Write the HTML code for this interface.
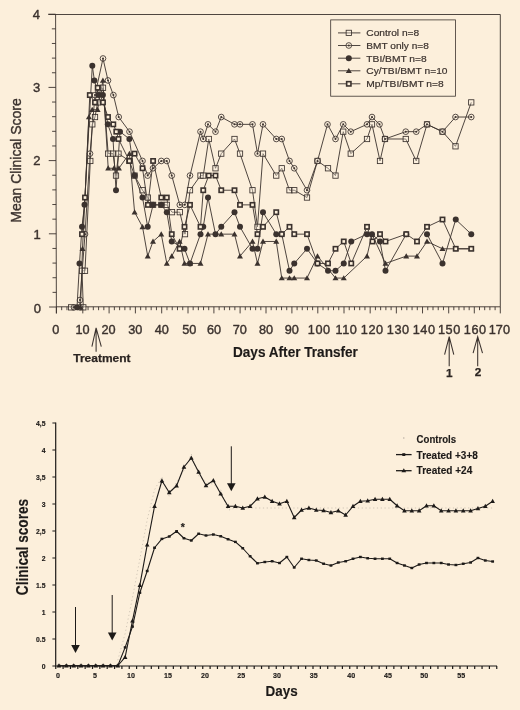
<!DOCTYPE html>
<html><head><meta charset="utf-8"><title>Figure</title>
<style>
html,body{margin:0;padding:0;background:#fcefdb;}
svg{display:block}
text{font-family:"Liberation Sans",Arial,Helvetica,sans-serif;fill:#3b322e;stroke:#3b322e;stroke-width:0.4px;stroke-linejoin:round}
.b{font-weight:bold;fill:#1d1a18;stroke:#1d1a18;stroke-width:0.15px}
.c{fill:#2c2522;stroke:#2c2522;stroke-width:0.25px}
</style></head><body>
<svg width="520" height="710" viewBox="0 0 520 710">
<rect width="520" height="710" fill="#fcefdb"/>

<g stroke="#3b322e" stroke-width="0.9" fill="none">
<path d="M48.4,14.5 H500.3 V306.8 H56.4 M55.6,14.5 L56.4,313.4"/>
<path d="M49.10,307.00H56.40M52.56,292.36H56.36M52.52,277.72H56.32M52.48,263.08H56.28M52.44,248.44H56.24M48.90,233.80H56.20M52.36,219.16H56.16M52.32,204.52H56.12M52.28,189.88H56.08M52.24,175.24H56.04M48.70,160.60H56.00M52.16,145.96H55.96M52.12,131.32H55.92M52.08,116.68H55.88M52.04,102.04H55.84M48.50,87.40H55.80M51.96,72.76H55.76M51.92,58.12H55.72M51.88,43.48H55.68M51.84,28.84H55.64M48.30,14.20H55.60"/>
<path d="M56.40,306.8V313.4M61.68,306.8V310.2M66.96,306.8V310.2M72.24,306.8V310.2M77.52,306.8V310.2M82.80,306.8V313.4M88.06,306.8V310.2M93.32,306.8V310.2M98.58,306.8V310.2M103.84,306.8V310.2M109.10,306.8V313.4M114.36,306.8V310.2M119.62,306.8V310.2M124.88,306.8V310.2M130.14,306.8V310.2M135.40,306.8V313.4M140.66,306.8V310.2M145.92,306.8V310.2M151.18,306.8V310.2M156.44,306.8V310.2M161.70,306.8V313.4M166.96,306.8V310.2M172.22,306.8V310.2M177.48,306.8V310.2M182.74,306.8V310.2M188.00,306.8V313.4M193.18,306.8V310.2M198.36,306.8V310.2M203.54,306.8V310.2M208.72,306.8V310.2M213.90,306.8V313.4M219.14,306.8V310.2M224.38,306.8V310.2M229.62,306.8V310.2M234.86,306.8V310.2M240.10,306.8V313.4M245.28,306.8V310.2M250.46,306.8V310.2M255.64,306.8V310.2M260.82,306.8V310.2M266.00,306.8V313.4M271.18,306.8V310.2M276.36,306.8V310.2M281.54,306.8V310.2M286.72,306.8V310.2M291.90,306.8V313.4M297.08,306.8V310.2M302.26,306.8V310.2M307.44,306.8V310.2M312.62,306.8V310.2M317.80,306.8V313.4M323.04,306.8V310.2M328.28,306.8V310.2M333.52,306.8V310.2M338.76,306.8V310.2M344.00,306.8V313.4M349.24,306.8V310.2M354.47,306.8V310.2M359.70,306.8V310.2M364.94,306.8V310.2M370.18,306.8V313.4M375.41,306.8V310.2M380.64,306.8V310.2M385.88,306.8V310.2M391.12,306.8V310.2M396.35,306.8V313.4M401.58,306.8V310.2M406.82,306.8V310.2M412.06,306.8V310.2M417.29,306.8V310.2M422.52,306.8V313.4M427.76,306.8V310.2M433.00,306.8V310.2M438.23,306.8V310.2M443.46,306.8V310.2M448.70,306.8V313.4M453.82,306.8V310.2M458.94,306.8V310.2M464.06,306.8V310.2M469.18,306.8V310.2M474.30,306.8V313.4M479.50,306.8V310.2M484.70,306.8V310.2M489.90,306.8V310.2M495.10,306.8V310.2M500.30,306.8V313.4"/>
</g>
<g stroke="#3b322e" stroke-width="0.9" fill="none" stroke-linejoin="round">
<polyline points="71.20,307.35 83.30,307.35 82.00,270.75 85.00,270.75 90.30,160.95 92.30,124.35 95.00,117.03 97.70,102.39 103.00,87.75 108.20,153.63 113.00,153.63 116.00,175.59 118.50,153.63 129.40,160.95 134.60,175.59 142.50,190.23 147.90,197.55 153.10,204.87 161.30,204.87 166.80,204.87 172.00,212.19 179.80,212.19 185.00,234.15 190.00,190.23 200.50,175.59 203.25,175.59 208.75,138.99 215.50,168.27 221.25,153.63 234.50,138.99 240.00,153.63 252.50,190.23 257.50,226.83 263.00,153.63 276.25,175.59 281.75,168.27 289.50,190.23 294.25,190.23 307.00,197.55 317.50,160.95 328.00,168.27 335.50,175.59 343.25,131.67 350.75,153.63 367.00,138.99 372.00,124.35 380.00,160.95 385.00,138.99 405.75,138.99 416.25,160.95 427.00,124.35 442.50,131.67 455.50,146.31 471.25,102.39"/>
<polyline points="74.00,307.35 79.80,307.35 80.00,300.03 85.00,234.15 90.00,153.63 95.00,95.07 103.00,58.47 108.00,80.43 113.40,95.07 118.70,117.03 129.50,131.67 142.50,160.95 147.70,175.59 153.00,168.27 161.25,160.95 166.80,160.95 171.75,175.59 179.80,204.87 184.80,204.87 190.00,175.59 200.50,131.67 203.25,138.99 208.00,124.35 215.50,131.67 221.25,117.03 234.50,124.35 240.00,124.35 252.50,124.35 257.50,153.63 263.00,124.35 276.25,138.99 281.75,138.99 289.50,160.95 294.25,168.27 307.00,190.23 317.50,160.95 327.50,124.35 335.50,138.99 343.25,124.35 350.75,131.67 367.00,124.35 372.00,117.03 379.50,124.35 385.00,138.99 405.75,131.67 416.25,131.67 427.00,124.35 442.50,131.67 455.50,117.03 471.25,117.03"/>
<polyline points="77.00,307.35 79.50,263.43 82.00,226.83 84.50,204.87 92.30,65.79 94.40,80.43 98.50,95.07 102.90,95.07 107.80,124.35 113.00,138.99 116.00,190.23 120.00,131.67 129.40,138.99 134.60,175.59 142.50,197.55 147.70,226.83 153.10,204.87 161.30,204.87 166.80,212.19 171.75,241.47 184.50,248.79 190.00,263.43 200.50,234.15 203.25,226.83 208.00,197.55 215.50,234.15 221.25,226.83 234.50,212.19 240.00,226.83 252.50,248.79 257.50,248.79 263.00,212.19 276.25,234.15 281.75,234.15 289.50,270.75 294.25,263.43 307.00,248.79 317.50,263.43 328.00,270.75 335.50,270.75 343.75,263.43 351.25,241.47 367.00,234.15 372.00,234.15 380.00,241.47 385.50,270.75 406.25,234.15"/>
<polyline points="427.00,234.15 442.50,263.43 455.75,219.51 471.25,234.15"/>
<polyline points="80.50,307.35 82.50,248.79 88.90,117.03 92.20,109.71 97.60,109.71 102.90,80.43 108.20,168.27 114.00,168.27 118.90,168.27 129.40,153.63 134.60,212.19 142.50,226.83 147.70,256.11 153.00,241.47 161.25,234.15 166.80,263.43 171.75,256.11 179.60,241.47 184.50,263.43 190.00,263.43 200.50,263.43 208.00,234.15 221.25,234.15 234.50,234.15 240.00,256.11 252.50,241.47 257.50,263.43 263.00,241.47 276.25,241.47 281.75,278.07 289.50,278.07 294.25,278.07 307.00,278.07 317.50,256.11 335.50,278.07 343.75,278.07 367.00,256.11 372.00,234.15 385.50,263.43 406.25,256.11 417.00,256.11 427.00,241.47 442.50,248.79 455.75,248.79 471.25,248.79"/>
<polyline points="82.00,234.15 85.00,197.55 89.80,95.07 95.00,102.39 97.70,87.75 103.00,102.39 108.00,117.03 113.30,124.35 116.30,131.67 118.50,138.99 129.40,160.95 134.60,153.63 142.50,168.27 147.90,204.87 153.10,160.95 161.30,197.55 166.80,197.55 171.75,234.15 179.60,248.79 184.50,226.83 190.00,204.87 200.50,226.83 203.25,190.23 208.75,175.59 215.50,175.59 221.25,190.23 234.50,190.23 240.00,204.87 252.50,204.87 257.50,234.15 263.00,226.83 276.25,212.19 281.75,234.15 289.50,226.83 294.25,234.15 307.00,234.15 317.50,263.43 328.00,263.43 335.50,248.79 343.75,241.47 351.25,263.43 367.00,226.83 372.50,241.47 380.00,234.15 385.50,241.47 406.25,234.15 417.00,241.47 427.00,226.83 442.50,219.51 455.75,248.79 471.25,248.79"/>
</g>
<rect x="68.55" y="304.70" width="5.3" height="5.3" fill="#fdf3e4" fill-opacity="0.35" stroke="#3b322e" stroke-width="0.85"/>
<rect x="80.65" y="304.70" width="5.3" height="5.3" fill="#fdf3e4" fill-opacity="0.35" stroke="#3b322e" stroke-width="0.85"/>
<rect x="79.35" y="268.10" width="5.3" height="5.3" fill="#fdf3e4" fill-opacity="0.35" stroke="#3b322e" stroke-width="0.85"/>
<rect x="82.35" y="268.10" width="5.3" height="5.3" fill="#fdf3e4" fill-opacity="0.35" stroke="#3b322e" stroke-width="0.85"/>
<rect x="87.65" y="158.30" width="5.3" height="5.3" fill="#fdf3e4" fill-opacity="0.35" stroke="#3b322e" stroke-width="0.85"/>
<rect x="89.65" y="121.70" width="5.3" height="5.3" fill="#fdf3e4" fill-opacity="0.35" stroke="#3b322e" stroke-width="0.85"/>
<rect x="92.35" y="114.38" width="5.3" height="5.3" fill="#fdf3e4" fill-opacity="0.35" stroke="#3b322e" stroke-width="0.85"/>
<rect x="95.05" y="99.74" width="5.3" height="5.3" fill="#fdf3e4" fill-opacity="0.35" stroke="#3b322e" stroke-width="0.85"/>
<rect x="100.35" y="85.10" width="5.3" height="5.3" fill="#fdf3e4" fill-opacity="0.35" stroke="#3b322e" stroke-width="0.85"/>
<rect x="105.55" y="150.98" width="5.3" height="5.3" fill="#fdf3e4" fill-opacity="0.35" stroke="#3b322e" stroke-width="0.85"/>
<rect x="110.35" y="150.98" width="5.3" height="5.3" fill="#fdf3e4" fill-opacity="0.35" stroke="#3b322e" stroke-width="0.85"/>
<rect x="113.35" y="172.94" width="5.3" height="5.3" fill="#fdf3e4" fill-opacity="0.35" stroke="#3b322e" stroke-width="0.85"/>
<rect x="115.85" y="150.98" width="5.3" height="5.3" fill="#fdf3e4" fill-opacity="0.35" stroke="#3b322e" stroke-width="0.85"/>
<rect x="126.75" y="158.30" width="5.3" height="5.3" fill="#fdf3e4" fill-opacity="0.35" stroke="#3b322e" stroke-width="0.85"/>
<rect x="131.95" y="172.94" width="5.3" height="5.3" fill="#fdf3e4" fill-opacity="0.35" stroke="#3b322e" stroke-width="0.85"/>
<rect x="139.85" y="187.58" width="5.3" height="5.3" fill="#fdf3e4" fill-opacity="0.35" stroke="#3b322e" stroke-width="0.85"/>
<rect x="145.25" y="194.90" width="5.3" height="5.3" fill="#fdf3e4" fill-opacity="0.35" stroke="#3b322e" stroke-width="0.85"/>
<rect x="150.45" y="202.22" width="5.3" height="5.3" fill="#fdf3e4" fill-opacity="0.35" stroke="#3b322e" stroke-width="0.85"/>
<rect x="158.65" y="202.22" width="5.3" height="5.3" fill="#fdf3e4" fill-opacity="0.35" stroke="#3b322e" stroke-width="0.85"/>
<rect x="164.15" y="202.22" width="5.3" height="5.3" fill="#fdf3e4" fill-opacity="0.35" stroke="#3b322e" stroke-width="0.85"/>
<rect x="169.35" y="209.54" width="5.3" height="5.3" fill="#fdf3e4" fill-opacity="0.35" stroke="#3b322e" stroke-width="0.85"/>
<rect x="177.15" y="209.54" width="5.3" height="5.3" fill="#fdf3e4" fill-opacity="0.35" stroke="#3b322e" stroke-width="0.85"/>
<rect x="182.35" y="231.50" width="5.3" height="5.3" fill="#fdf3e4" fill-opacity="0.35" stroke="#3b322e" stroke-width="0.85"/>
<rect x="187.35" y="187.58" width="5.3" height="5.3" fill="#fdf3e4" fill-opacity="0.35" stroke="#3b322e" stroke-width="0.85"/>
<rect x="197.85" y="172.94" width="5.3" height="5.3" fill="#fdf3e4" fill-opacity="0.35" stroke="#3b322e" stroke-width="0.85"/>
<rect x="200.60" y="172.94" width="5.3" height="5.3" fill="#fdf3e4" fill-opacity="0.35" stroke="#3b322e" stroke-width="0.85"/>
<rect x="206.10" y="136.34" width="5.3" height="5.3" fill="#fdf3e4" fill-opacity="0.35" stroke="#3b322e" stroke-width="0.85"/>
<rect x="212.85" y="165.62" width="5.3" height="5.3" fill="#fdf3e4" fill-opacity="0.35" stroke="#3b322e" stroke-width="0.85"/>
<rect x="218.60" y="150.98" width="5.3" height="5.3" fill="#fdf3e4" fill-opacity="0.35" stroke="#3b322e" stroke-width="0.85"/>
<rect x="231.85" y="136.34" width="5.3" height="5.3" fill="#fdf3e4" fill-opacity="0.35" stroke="#3b322e" stroke-width="0.85"/>
<rect x="237.35" y="150.98" width="5.3" height="5.3" fill="#fdf3e4" fill-opacity="0.35" stroke="#3b322e" stroke-width="0.85"/>
<rect x="249.85" y="187.58" width="5.3" height="5.3" fill="#fdf3e4" fill-opacity="0.35" stroke="#3b322e" stroke-width="0.85"/>
<rect x="254.85" y="224.18" width="5.3" height="5.3" fill="#fdf3e4" fill-opacity="0.35" stroke="#3b322e" stroke-width="0.85"/>
<rect x="260.35" y="150.98" width="5.3" height="5.3" fill="#fdf3e4" fill-opacity="0.35" stroke="#3b322e" stroke-width="0.85"/>
<rect x="273.60" y="172.94" width="5.3" height="5.3" fill="#fdf3e4" fill-opacity="0.35" stroke="#3b322e" stroke-width="0.85"/>
<rect x="279.10" y="165.62" width="5.3" height="5.3" fill="#fdf3e4" fill-opacity="0.35" stroke="#3b322e" stroke-width="0.85"/>
<rect x="286.85" y="187.58" width="5.3" height="5.3" fill="#fdf3e4" fill-opacity="0.35" stroke="#3b322e" stroke-width="0.85"/>
<rect x="291.60" y="187.58" width="5.3" height="5.3" fill="#fdf3e4" fill-opacity="0.35" stroke="#3b322e" stroke-width="0.85"/>
<rect x="304.35" y="194.90" width="5.3" height="5.3" fill="#fdf3e4" fill-opacity="0.35" stroke="#3b322e" stroke-width="0.85"/>
<rect x="314.85" y="158.30" width="5.3" height="5.3" fill="#fdf3e4" fill-opacity="0.35" stroke="#3b322e" stroke-width="0.85"/>
<rect x="325.35" y="165.62" width="5.3" height="5.3" fill="#fdf3e4" fill-opacity="0.35" stroke="#3b322e" stroke-width="0.85"/>
<rect x="332.85" y="172.94" width="5.3" height="5.3" fill="#fdf3e4" fill-opacity="0.35" stroke="#3b322e" stroke-width="0.85"/>
<rect x="340.60" y="129.02" width="5.3" height="5.3" fill="#fdf3e4" fill-opacity="0.35" stroke="#3b322e" stroke-width="0.85"/>
<rect x="348.10" y="150.98" width="5.3" height="5.3" fill="#fdf3e4" fill-opacity="0.35" stroke="#3b322e" stroke-width="0.85"/>
<rect x="364.35" y="136.34" width="5.3" height="5.3" fill="#fdf3e4" fill-opacity="0.35" stroke="#3b322e" stroke-width="0.85"/>
<rect x="369.35" y="121.70" width="5.3" height="5.3" fill="#fdf3e4" fill-opacity="0.35" stroke="#3b322e" stroke-width="0.85"/>
<rect x="377.35" y="158.30" width="5.3" height="5.3" fill="#fdf3e4" fill-opacity="0.35" stroke="#3b322e" stroke-width="0.85"/>
<rect x="382.35" y="136.34" width="5.3" height="5.3" fill="#fdf3e4" fill-opacity="0.35" stroke="#3b322e" stroke-width="0.85"/>
<rect x="403.10" y="136.34" width="5.3" height="5.3" fill="#fdf3e4" fill-opacity="0.35" stroke="#3b322e" stroke-width="0.85"/>
<rect x="413.60" y="158.30" width="5.3" height="5.3" fill="#fdf3e4" fill-opacity="0.35" stroke="#3b322e" stroke-width="0.85"/>
<rect x="424.35" y="121.70" width="5.3" height="5.3" fill="#fdf3e4" fill-opacity="0.35" stroke="#3b322e" stroke-width="0.85"/>
<rect x="439.85" y="129.02" width="5.3" height="5.3" fill="#fdf3e4" fill-opacity="0.35" stroke="#3b322e" stroke-width="0.85"/>
<rect x="452.85" y="143.66" width="5.3" height="5.3" fill="#fdf3e4" fill-opacity="0.35" stroke="#3b322e" stroke-width="0.85"/>
<rect x="468.60" y="99.74" width="5.3" height="5.3" fill="#fdf3e4" fill-opacity="0.35" stroke="#3b322e" stroke-width="0.85"/>
<circle cx="74.00" cy="307.35" r="2.85" fill="#fcefdb" fill-opacity="0.25" stroke="#3b322e" stroke-width="0.85"/><circle cx="74.00" cy="307.35" r="1.0" fill="#3b322e"/>
<circle cx="79.80" cy="307.35" r="2.85" fill="#fcefdb" fill-opacity="0.25" stroke="#3b322e" stroke-width="0.85"/><circle cx="79.80" cy="307.35" r="1.0" fill="#3b322e"/>
<circle cx="80.00" cy="300.03" r="2.85" fill="#fcefdb" fill-opacity="0.25" stroke="#3b322e" stroke-width="0.85"/><circle cx="80.00" cy="300.03" r="1.0" fill="#3b322e"/>
<circle cx="85.00" cy="234.15" r="2.85" fill="#fcefdb" fill-opacity="0.25" stroke="#3b322e" stroke-width="0.85"/><circle cx="85.00" cy="234.15" r="1.0" fill="#3b322e"/>
<circle cx="90.00" cy="153.63" r="2.85" fill="#fcefdb" fill-opacity="0.25" stroke="#3b322e" stroke-width="0.85"/><circle cx="90.00" cy="153.63" r="1.0" fill="#3b322e"/>
<circle cx="95.00" cy="95.07" r="2.85" fill="#fcefdb" fill-opacity="0.25" stroke="#3b322e" stroke-width="0.85"/><circle cx="95.00" cy="95.07" r="1.0" fill="#3b322e"/>
<circle cx="103.00" cy="58.47" r="2.85" fill="#fcefdb" fill-opacity="0.25" stroke="#3b322e" stroke-width="0.85"/><circle cx="103.00" cy="58.47" r="1.0" fill="#3b322e"/>
<circle cx="108.00" cy="80.43" r="2.85" fill="#fcefdb" fill-opacity="0.25" stroke="#3b322e" stroke-width="0.85"/><circle cx="108.00" cy="80.43" r="1.0" fill="#3b322e"/>
<circle cx="113.40" cy="95.07" r="2.85" fill="#fcefdb" fill-opacity="0.25" stroke="#3b322e" stroke-width="0.85"/><circle cx="113.40" cy="95.07" r="1.0" fill="#3b322e"/>
<circle cx="118.70" cy="117.03" r="2.85" fill="#fcefdb" fill-opacity="0.25" stroke="#3b322e" stroke-width="0.85"/><circle cx="118.70" cy="117.03" r="1.0" fill="#3b322e"/>
<circle cx="129.50" cy="131.67" r="2.85" fill="#fcefdb" fill-opacity="0.25" stroke="#3b322e" stroke-width="0.85"/><circle cx="129.50" cy="131.67" r="1.0" fill="#3b322e"/>
<circle cx="142.50" cy="160.95" r="2.85" fill="#fcefdb" fill-opacity="0.25" stroke="#3b322e" stroke-width="0.85"/><circle cx="142.50" cy="160.95" r="1.0" fill="#3b322e"/>
<circle cx="147.70" cy="175.59" r="2.85" fill="#fcefdb" fill-opacity="0.25" stroke="#3b322e" stroke-width="0.85"/><circle cx="147.70" cy="175.59" r="1.0" fill="#3b322e"/>
<circle cx="153.00" cy="168.27" r="2.85" fill="#fcefdb" fill-opacity="0.25" stroke="#3b322e" stroke-width="0.85"/><circle cx="153.00" cy="168.27" r="1.0" fill="#3b322e"/>
<circle cx="161.25" cy="160.95" r="2.85" fill="#fcefdb" fill-opacity="0.25" stroke="#3b322e" stroke-width="0.85"/><circle cx="161.25" cy="160.95" r="1.0" fill="#3b322e"/>
<circle cx="166.80" cy="160.95" r="2.85" fill="#fcefdb" fill-opacity="0.25" stroke="#3b322e" stroke-width="0.85"/><circle cx="166.80" cy="160.95" r="1.0" fill="#3b322e"/>
<circle cx="171.75" cy="175.59" r="2.85" fill="#fcefdb" fill-opacity="0.25" stroke="#3b322e" stroke-width="0.85"/><circle cx="171.75" cy="175.59" r="1.0" fill="#3b322e"/>
<circle cx="179.80" cy="204.87" r="2.85" fill="#fcefdb" fill-opacity="0.25" stroke="#3b322e" stroke-width="0.85"/><circle cx="179.80" cy="204.87" r="1.0" fill="#3b322e"/>
<circle cx="184.80" cy="204.87" r="2.85" fill="#fcefdb" fill-opacity="0.25" stroke="#3b322e" stroke-width="0.85"/><circle cx="184.80" cy="204.87" r="1.0" fill="#3b322e"/>
<circle cx="190.00" cy="175.59" r="2.85" fill="#fcefdb" fill-opacity="0.25" stroke="#3b322e" stroke-width="0.85"/><circle cx="190.00" cy="175.59" r="1.0" fill="#3b322e"/>
<circle cx="200.50" cy="131.67" r="2.85" fill="#fcefdb" fill-opacity="0.25" stroke="#3b322e" stroke-width="0.85"/><circle cx="200.50" cy="131.67" r="1.0" fill="#3b322e"/>
<circle cx="203.25" cy="138.99" r="2.85" fill="#fcefdb" fill-opacity="0.25" stroke="#3b322e" stroke-width="0.85"/><circle cx="203.25" cy="138.99" r="1.0" fill="#3b322e"/>
<circle cx="208.00" cy="124.35" r="2.85" fill="#fcefdb" fill-opacity="0.25" stroke="#3b322e" stroke-width="0.85"/><circle cx="208.00" cy="124.35" r="1.0" fill="#3b322e"/>
<circle cx="215.50" cy="131.67" r="2.85" fill="#fcefdb" fill-opacity="0.25" stroke="#3b322e" stroke-width="0.85"/><circle cx="215.50" cy="131.67" r="1.0" fill="#3b322e"/>
<circle cx="221.25" cy="117.03" r="2.85" fill="#fcefdb" fill-opacity="0.25" stroke="#3b322e" stroke-width="0.85"/><circle cx="221.25" cy="117.03" r="1.0" fill="#3b322e"/>
<circle cx="234.50" cy="124.35" r="2.85" fill="#fcefdb" fill-opacity="0.25" stroke="#3b322e" stroke-width="0.85"/><circle cx="234.50" cy="124.35" r="1.0" fill="#3b322e"/>
<circle cx="240.00" cy="124.35" r="2.85" fill="#fcefdb" fill-opacity="0.25" stroke="#3b322e" stroke-width="0.85"/><circle cx="240.00" cy="124.35" r="1.0" fill="#3b322e"/>
<circle cx="252.50" cy="124.35" r="2.85" fill="#fcefdb" fill-opacity="0.25" stroke="#3b322e" stroke-width="0.85"/><circle cx="252.50" cy="124.35" r="1.0" fill="#3b322e"/>
<circle cx="257.50" cy="153.63" r="2.85" fill="#fcefdb" fill-opacity="0.25" stroke="#3b322e" stroke-width="0.85"/><circle cx="257.50" cy="153.63" r="1.0" fill="#3b322e"/>
<circle cx="263.00" cy="124.35" r="2.85" fill="#fcefdb" fill-opacity="0.25" stroke="#3b322e" stroke-width="0.85"/><circle cx="263.00" cy="124.35" r="1.0" fill="#3b322e"/>
<circle cx="276.25" cy="138.99" r="2.85" fill="#fcefdb" fill-opacity="0.25" stroke="#3b322e" stroke-width="0.85"/><circle cx="276.25" cy="138.99" r="1.0" fill="#3b322e"/>
<circle cx="281.75" cy="138.99" r="2.85" fill="#fcefdb" fill-opacity="0.25" stroke="#3b322e" stroke-width="0.85"/><circle cx="281.75" cy="138.99" r="1.0" fill="#3b322e"/>
<circle cx="289.50" cy="160.95" r="2.85" fill="#fcefdb" fill-opacity="0.25" stroke="#3b322e" stroke-width="0.85"/><circle cx="289.50" cy="160.95" r="1.0" fill="#3b322e"/>
<circle cx="294.25" cy="168.27" r="2.85" fill="#fcefdb" fill-opacity="0.25" stroke="#3b322e" stroke-width="0.85"/><circle cx="294.25" cy="168.27" r="1.0" fill="#3b322e"/>
<circle cx="307.00" cy="190.23" r="2.85" fill="#fcefdb" fill-opacity="0.25" stroke="#3b322e" stroke-width="0.85"/><circle cx="307.00" cy="190.23" r="1.0" fill="#3b322e"/>
<circle cx="317.50" cy="160.95" r="2.85" fill="#fcefdb" fill-opacity="0.25" stroke="#3b322e" stroke-width="0.85"/><circle cx="317.50" cy="160.95" r="1.0" fill="#3b322e"/>
<circle cx="327.50" cy="124.35" r="2.85" fill="#fcefdb" fill-opacity="0.25" stroke="#3b322e" stroke-width="0.85"/><circle cx="327.50" cy="124.35" r="1.0" fill="#3b322e"/>
<circle cx="335.50" cy="138.99" r="2.85" fill="#fcefdb" fill-opacity="0.25" stroke="#3b322e" stroke-width="0.85"/><circle cx="335.50" cy="138.99" r="1.0" fill="#3b322e"/>
<circle cx="343.25" cy="124.35" r="2.85" fill="#fcefdb" fill-opacity="0.25" stroke="#3b322e" stroke-width="0.85"/><circle cx="343.25" cy="124.35" r="1.0" fill="#3b322e"/>
<circle cx="350.75" cy="131.67" r="2.85" fill="#fcefdb" fill-opacity="0.25" stroke="#3b322e" stroke-width="0.85"/><circle cx="350.75" cy="131.67" r="1.0" fill="#3b322e"/>
<circle cx="367.00" cy="124.35" r="2.85" fill="#fcefdb" fill-opacity="0.25" stroke="#3b322e" stroke-width="0.85"/><circle cx="367.00" cy="124.35" r="1.0" fill="#3b322e"/>
<circle cx="372.00" cy="117.03" r="2.85" fill="#fcefdb" fill-opacity="0.25" stroke="#3b322e" stroke-width="0.85"/><circle cx="372.00" cy="117.03" r="1.0" fill="#3b322e"/>
<circle cx="379.50" cy="124.35" r="2.85" fill="#fcefdb" fill-opacity="0.25" stroke="#3b322e" stroke-width="0.85"/><circle cx="379.50" cy="124.35" r="1.0" fill="#3b322e"/>
<circle cx="385.00" cy="138.99" r="2.85" fill="#fcefdb" fill-opacity="0.25" stroke="#3b322e" stroke-width="0.85"/><circle cx="385.00" cy="138.99" r="1.0" fill="#3b322e"/>
<circle cx="405.75" cy="131.67" r="2.85" fill="#fcefdb" fill-opacity="0.25" stroke="#3b322e" stroke-width="0.85"/><circle cx="405.75" cy="131.67" r="1.0" fill="#3b322e"/>
<circle cx="416.25" cy="131.67" r="2.85" fill="#fcefdb" fill-opacity="0.25" stroke="#3b322e" stroke-width="0.85"/><circle cx="416.25" cy="131.67" r="1.0" fill="#3b322e"/>
<circle cx="427.00" cy="124.35" r="2.85" fill="#fcefdb" fill-opacity="0.25" stroke="#3b322e" stroke-width="0.85"/><circle cx="427.00" cy="124.35" r="1.0" fill="#3b322e"/>
<circle cx="442.50" cy="131.67" r="2.85" fill="#fcefdb" fill-opacity="0.25" stroke="#3b322e" stroke-width="0.85"/><circle cx="442.50" cy="131.67" r="1.0" fill="#3b322e"/>
<circle cx="455.50" cy="117.03" r="2.85" fill="#fcefdb" fill-opacity="0.25" stroke="#3b322e" stroke-width="0.85"/><circle cx="455.50" cy="117.03" r="1.0" fill="#3b322e"/>
<circle cx="471.25" cy="117.03" r="2.85" fill="#fcefdb" fill-opacity="0.25" stroke="#3b322e" stroke-width="0.85"/><circle cx="471.25" cy="117.03" r="1.0" fill="#3b322e"/>
<path d="M80.50,304.45 L83.50,309.65 L77.50,309.65 Z" fill="#3b322e"/>
<path d="M82.50,245.89 L85.50,251.09 L79.50,251.09 Z" fill="#3b322e"/>
<path d="M88.90,114.13 L91.90,119.33 L85.90,119.33 Z" fill="#3b322e"/>
<path d="M92.20,106.81 L95.20,112.01 L89.20,112.01 Z" fill="#3b322e"/>
<path d="M97.60,106.81 L100.60,112.01 L94.60,112.01 Z" fill="#3b322e"/>
<path d="M102.90,77.53 L105.90,82.73 L99.90,82.73 Z" fill="#3b322e"/>
<path d="M108.20,165.37 L111.20,170.57 L105.20,170.57 Z" fill="#3b322e"/>
<path d="M114.00,165.37 L117.00,170.57 L111.00,170.57 Z" fill="#3b322e"/>
<path d="M118.90,165.37 L121.90,170.57 L115.90,170.57 Z" fill="#3b322e"/>
<path d="M129.40,150.73 L132.40,155.93 L126.40,155.93 Z" fill="#3b322e"/>
<path d="M134.60,209.29 L137.60,214.49 L131.60,214.49 Z" fill="#3b322e"/>
<path d="M142.50,223.93 L145.50,229.13 L139.50,229.13 Z" fill="#3b322e"/>
<path d="M147.70,253.21 L150.70,258.41 L144.70,258.41 Z" fill="#3b322e"/>
<path d="M153.00,238.57 L156.00,243.77 L150.00,243.77 Z" fill="#3b322e"/>
<path d="M161.25,231.25 L164.25,236.45 L158.25,236.45 Z" fill="#3b322e"/>
<path d="M166.80,260.53 L169.80,265.73 L163.80,265.73 Z" fill="#3b322e"/>
<path d="M171.75,253.21 L174.75,258.41 L168.75,258.41 Z" fill="#3b322e"/>
<path d="M179.60,238.57 L182.60,243.77 L176.60,243.77 Z" fill="#3b322e"/>
<path d="M184.50,260.53 L187.50,265.73 L181.50,265.73 Z" fill="#3b322e"/>
<path d="M190.00,260.53 L193.00,265.73 L187.00,265.73 Z" fill="#3b322e"/>
<path d="M200.50,260.53 L203.50,265.73 L197.50,265.73 Z" fill="#3b322e"/>
<path d="M208.00,231.25 L211.00,236.45 L205.00,236.45 Z" fill="#3b322e"/>
<path d="M221.25,231.25 L224.25,236.45 L218.25,236.45 Z" fill="#3b322e"/>
<path d="M234.50,231.25 L237.50,236.45 L231.50,236.45 Z" fill="#3b322e"/>
<path d="M240.00,253.21 L243.00,258.41 L237.00,258.41 Z" fill="#3b322e"/>
<path d="M252.50,238.57 L255.50,243.77 L249.50,243.77 Z" fill="#3b322e"/>
<path d="M257.50,260.53 L260.50,265.73 L254.50,265.73 Z" fill="#3b322e"/>
<path d="M263.00,238.57 L266.00,243.77 L260.00,243.77 Z" fill="#3b322e"/>
<path d="M276.25,238.57 L279.25,243.77 L273.25,243.77 Z" fill="#3b322e"/>
<path d="M281.75,275.17 L284.75,280.37 L278.75,280.37 Z" fill="#3b322e"/>
<path d="M289.50,275.17 L292.50,280.37 L286.50,280.37 Z" fill="#3b322e"/>
<path d="M294.25,275.17 L297.25,280.37 L291.25,280.37 Z" fill="#3b322e"/>
<path d="M307.00,275.17 L310.00,280.37 L304.00,280.37 Z" fill="#3b322e"/>
<path d="M317.50,253.21 L320.50,258.41 L314.50,258.41 Z" fill="#3b322e"/>
<path d="M335.50,275.17 L338.50,280.37 L332.50,280.37 Z" fill="#3b322e"/>
<path d="M343.75,275.17 L346.75,280.37 L340.75,280.37 Z" fill="#3b322e"/>
<path d="M367.00,253.21 L370.00,258.41 L364.00,258.41 Z" fill="#3b322e"/>
<path d="M372.00,231.25 L375.00,236.45 L369.00,236.45 Z" fill="#3b322e"/>
<path d="M385.50,260.53 L388.50,265.73 L382.50,265.73 Z" fill="#3b322e"/>
<path d="M406.25,253.21 L409.25,258.41 L403.25,258.41 Z" fill="#3b322e"/>
<path d="M417.00,253.21 L420.00,258.41 L414.00,258.41 Z" fill="#3b322e"/>
<path d="M427.00,238.57 L430.00,243.77 L424.00,243.77 Z" fill="#3b322e"/>
<path d="M442.50,245.89 L445.50,251.09 L439.50,251.09 Z" fill="#3b322e"/>
<path d="M455.75,245.89 L458.75,251.09 L452.75,251.09 Z" fill="#3b322e"/>
<path d="M471.25,245.89 L474.25,251.09 L468.25,251.09 Z" fill="#3b322e"/>
<circle cx="77.00" cy="307.35" r="3.0" fill="#3b322e"/>
<circle cx="79.50" cy="263.43" r="3.0" fill="#3b322e"/>
<circle cx="82.00" cy="226.83" r="3.0" fill="#3b322e"/>
<circle cx="84.50" cy="204.87" r="3.0" fill="#3b322e"/>
<circle cx="92.30" cy="65.79" r="3.0" fill="#3b322e"/>
<circle cx="94.40" cy="80.43" r="3.0" fill="#3b322e"/>
<circle cx="98.50" cy="95.07" r="3.0" fill="#3b322e"/>
<circle cx="102.90" cy="95.07" r="3.0" fill="#3b322e"/>
<circle cx="107.80" cy="124.35" r="3.0" fill="#3b322e"/>
<circle cx="113.00" cy="138.99" r="3.0" fill="#3b322e"/>
<circle cx="116.00" cy="190.23" r="3.0" fill="#3b322e"/>
<circle cx="120.00" cy="131.67" r="3.0" fill="#3b322e"/>
<circle cx="129.40" cy="138.99" r="3.0" fill="#3b322e"/>
<circle cx="134.60" cy="175.59" r="3.0" fill="#3b322e"/>
<circle cx="142.50" cy="197.55" r="3.0" fill="#3b322e"/>
<circle cx="147.70" cy="226.83" r="3.0" fill="#3b322e"/>
<circle cx="153.10" cy="204.87" r="3.0" fill="#3b322e"/>
<circle cx="161.30" cy="204.87" r="3.0" fill="#3b322e"/>
<circle cx="166.80" cy="212.19" r="3.0" fill="#3b322e"/>
<circle cx="171.75" cy="241.47" r="3.0" fill="#3b322e"/>
<circle cx="184.50" cy="248.79" r="3.0" fill="#3b322e"/>
<circle cx="190.00" cy="263.43" r="3.0" fill="#3b322e"/>
<circle cx="200.50" cy="234.15" r="3.0" fill="#3b322e"/>
<circle cx="203.25" cy="226.83" r="3.0" fill="#3b322e"/>
<circle cx="208.00" cy="197.55" r="3.0" fill="#3b322e"/>
<circle cx="215.50" cy="234.15" r="3.0" fill="#3b322e"/>
<circle cx="221.25" cy="226.83" r="3.0" fill="#3b322e"/>
<circle cx="234.50" cy="212.19" r="3.0" fill="#3b322e"/>
<circle cx="240.00" cy="226.83" r="3.0" fill="#3b322e"/>
<circle cx="252.50" cy="248.79" r="3.0" fill="#3b322e"/>
<circle cx="257.50" cy="248.79" r="3.0" fill="#3b322e"/>
<circle cx="263.00" cy="212.19" r="3.0" fill="#3b322e"/>
<circle cx="276.25" cy="234.15" r="3.0" fill="#3b322e"/>
<circle cx="281.75" cy="234.15" r="3.0" fill="#3b322e"/>
<circle cx="289.50" cy="270.75" r="3.0" fill="#3b322e"/>
<circle cx="294.25" cy="263.43" r="3.0" fill="#3b322e"/>
<circle cx="307.00" cy="248.79" r="3.0" fill="#3b322e"/>
<circle cx="317.50" cy="263.43" r="3.0" fill="#3b322e"/>
<circle cx="328.00" cy="270.75" r="3.0" fill="#3b322e"/>
<circle cx="335.50" cy="270.75" r="3.0" fill="#3b322e"/>
<circle cx="343.75" cy="263.43" r="3.0" fill="#3b322e"/>
<circle cx="351.25" cy="241.47" r="3.0" fill="#3b322e"/>
<circle cx="367.00" cy="234.15" r="3.0" fill="#3b322e"/>
<circle cx="372.00" cy="234.15" r="3.0" fill="#3b322e"/>
<circle cx="380.00" cy="241.47" r="3.0" fill="#3b322e"/>
<circle cx="385.50" cy="270.75" r="3.0" fill="#3b322e"/>
<circle cx="406.25" cy="234.15" r="3.0" fill="#3b322e"/>
<circle cx="427.00" cy="234.15" r="3.0" fill="#3b322e"/>
<circle cx="442.50" cy="263.43" r="3.0" fill="#3b322e"/>
<circle cx="455.75" cy="219.51" r="3.0" fill="#3b322e"/>
<circle cx="471.25" cy="234.15" r="3.0" fill="#3b322e"/>
<rect x="79.85" y="232.00" width="4.3" height="4.3" fill="#fcefdb" stroke="#3b322e" stroke-width="1.6"/>
<rect x="82.85" y="195.40" width="4.3" height="4.3" fill="#fcefdb" stroke="#3b322e" stroke-width="1.6"/>
<rect x="87.65" y="92.92" width="4.3" height="4.3" fill="#fcefdb" stroke="#3b322e" stroke-width="1.6"/>
<rect x="92.85" y="100.24" width="4.3" height="4.3" fill="#fcefdb" stroke="#3b322e" stroke-width="1.6"/>
<rect x="95.55" y="85.60" width="4.3" height="4.3" fill="#fcefdb" stroke="#3b322e" stroke-width="1.6"/>
<rect x="100.85" y="100.24" width="4.3" height="4.3" fill="#fcefdb" stroke="#3b322e" stroke-width="1.6"/>
<rect x="105.85" y="114.88" width="4.3" height="4.3" fill="#fcefdb" stroke="#3b322e" stroke-width="1.6"/>
<rect x="111.15" y="122.20" width="4.3" height="4.3" fill="#fcefdb" stroke="#3b322e" stroke-width="1.6"/>
<rect x="114.15" y="129.52" width="4.3" height="4.3" fill="#fcefdb" stroke="#3b322e" stroke-width="1.6"/>
<rect x="116.35" y="136.84" width="4.3" height="4.3" fill="#fcefdb" stroke="#3b322e" stroke-width="1.6"/>
<rect x="127.25" y="158.80" width="4.3" height="4.3" fill="#fcefdb" stroke="#3b322e" stroke-width="1.6"/>
<rect x="132.45" y="151.48" width="4.3" height="4.3" fill="#fcefdb" stroke="#3b322e" stroke-width="1.6"/>
<rect x="140.35" y="166.12" width="4.3" height="4.3" fill="#fcefdb" stroke="#3b322e" stroke-width="1.6"/>
<rect x="145.75" y="202.72" width="4.3" height="4.3" fill="#fcefdb" stroke="#3b322e" stroke-width="1.6"/>
<rect x="150.95" y="158.80" width="4.3" height="4.3" fill="#fcefdb" stroke="#3b322e" stroke-width="1.6"/>
<rect x="159.15" y="195.40" width="4.3" height="4.3" fill="#fcefdb" stroke="#3b322e" stroke-width="1.6"/>
<rect x="164.65" y="195.40" width="4.3" height="4.3" fill="#fcefdb" stroke="#3b322e" stroke-width="1.6"/>
<rect x="169.60" y="232.00" width="4.3" height="4.3" fill="#fcefdb" stroke="#3b322e" stroke-width="1.6"/>
<rect x="177.45" y="246.64" width="4.3" height="4.3" fill="#fcefdb" stroke="#3b322e" stroke-width="1.6"/>
<rect x="182.35" y="224.68" width="4.3" height="4.3" fill="#fcefdb" stroke="#3b322e" stroke-width="1.6"/>
<rect x="187.85" y="202.72" width="4.3" height="4.3" fill="#fcefdb" stroke="#3b322e" stroke-width="1.6"/>
<rect x="198.35" y="224.68" width="4.3" height="4.3" fill="#fcefdb" stroke="#3b322e" stroke-width="1.6"/>
<rect x="201.10" y="188.08" width="4.3" height="4.3" fill="#fcefdb" stroke="#3b322e" stroke-width="1.6"/>
<rect x="206.60" y="173.44" width="4.3" height="4.3" fill="#fcefdb" stroke="#3b322e" stroke-width="1.6"/>
<rect x="213.35" y="173.44" width="4.3" height="4.3" fill="#fcefdb" stroke="#3b322e" stroke-width="1.6"/>
<rect x="219.10" y="188.08" width="4.3" height="4.3" fill="#fcefdb" stroke="#3b322e" stroke-width="1.6"/>
<rect x="232.35" y="188.08" width="4.3" height="4.3" fill="#fcefdb" stroke="#3b322e" stroke-width="1.6"/>
<rect x="237.85" y="202.72" width="4.3" height="4.3" fill="#fcefdb" stroke="#3b322e" stroke-width="1.6"/>
<rect x="250.35" y="202.72" width="4.3" height="4.3" fill="#fcefdb" stroke="#3b322e" stroke-width="1.6"/>
<rect x="255.35" y="232.00" width="4.3" height="4.3" fill="#fcefdb" stroke="#3b322e" stroke-width="1.6"/>
<rect x="260.85" y="224.68" width="4.3" height="4.3" fill="#fcefdb" stroke="#3b322e" stroke-width="1.6"/>
<rect x="274.10" y="210.04" width="4.3" height="4.3" fill="#fcefdb" stroke="#3b322e" stroke-width="1.6"/>
<rect x="279.60" y="232.00" width="4.3" height="4.3" fill="#fcefdb" stroke="#3b322e" stroke-width="1.6"/>
<rect x="287.35" y="224.68" width="4.3" height="4.3" fill="#fcefdb" stroke="#3b322e" stroke-width="1.6"/>
<rect x="292.10" y="232.00" width="4.3" height="4.3" fill="#fcefdb" stroke="#3b322e" stroke-width="1.6"/>
<rect x="304.85" y="232.00" width="4.3" height="4.3" fill="#fcefdb" stroke="#3b322e" stroke-width="1.6"/>
<rect x="315.35" y="261.28" width="4.3" height="4.3" fill="#fcefdb" stroke="#3b322e" stroke-width="1.6"/>
<rect x="325.85" y="261.28" width="4.3" height="4.3" fill="#fcefdb" stroke="#3b322e" stroke-width="1.6"/>
<rect x="333.35" y="246.64" width="4.3" height="4.3" fill="#fcefdb" stroke="#3b322e" stroke-width="1.6"/>
<rect x="341.60" y="239.32" width="4.3" height="4.3" fill="#fcefdb" stroke="#3b322e" stroke-width="1.6"/>
<rect x="349.10" y="261.28" width="4.3" height="4.3" fill="#fcefdb" stroke="#3b322e" stroke-width="1.6"/>
<rect x="364.85" y="224.68" width="4.3" height="4.3" fill="#fcefdb" stroke="#3b322e" stroke-width="1.6"/>
<rect x="370.35" y="239.32" width="4.3" height="4.3" fill="#fcefdb" stroke="#3b322e" stroke-width="1.6"/>
<rect x="377.85" y="232.00" width="4.3" height="4.3" fill="#fcefdb" stroke="#3b322e" stroke-width="1.6"/>
<rect x="383.35" y="239.32" width="4.3" height="4.3" fill="#fcefdb" stroke="#3b322e" stroke-width="1.6"/>
<rect x="404.10" y="232.00" width="4.3" height="4.3" fill="#fcefdb" stroke="#3b322e" stroke-width="1.6"/>
<rect x="414.85" y="239.32" width="4.3" height="4.3" fill="#fcefdb" stroke="#3b322e" stroke-width="1.6"/>
<rect x="424.85" y="224.68" width="4.3" height="4.3" fill="#fcefdb" stroke="#3b322e" stroke-width="1.6"/>
<rect x="440.35" y="217.36" width="4.3" height="4.3" fill="#fcefdb" stroke="#3b322e" stroke-width="1.6"/>
<rect x="453.60" y="246.64" width="4.3" height="4.3" fill="#fcefdb" stroke="#3b322e" stroke-width="1.6"/>
<rect x="469.10" y="246.64" width="4.3" height="4.3" fill="#fcefdb" stroke="#3b322e" stroke-width="1.6"/>
<text x="39.90" y="18.9" font-size="13" text-anchor="end">4</text>
<text x="40.15" y="92.1" font-size="13" text-anchor="end">3</text>
<text x="40.40" y="165.3" font-size="13" text-anchor="end">2</text>
<text x="40.65" y="238.5" font-size="13" text-anchor="end">1</text>
<text x="40.90" y="313.3" font-size="13" text-anchor="end">0</text>
<text transform="translate(21.2,160.5) rotate(-90)" font-size="14" text-anchor="middle">Mean Clinical Score</text>
<text x="55.9" y="333.5" font-size="12.7" text-anchor="middle">0</text>
<text x="82.6" y="333.5" font-size="12.7" text-anchor="middle">10</text>
<text x="108.6" y="333.5" font-size="12.7" text-anchor="middle">20</text>
<text x="135.3" y="333.5" font-size="12.7" text-anchor="middle">30</text>
<text x="161.8" y="333.5" font-size="12.7" text-anchor="middle">40</text>
<text x="189.3" y="333.5" font-size="12.7" text-anchor="middle">50</text>
<text x="214" y="333.5" font-size="12.7" text-anchor="middle">60</text>
<text x="239.8" y="333.5" font-size="12.7" text-anchor="middle">70</text>
<text x="266" y="333.5" font-size="12.7" text-anchor="middle">80</text>
<text x="291.7" y="333.5" font-size="12.7" text-anchor="middle">90</text>
<text x="319.2" y="333.5" font-size="12.7" text-anchor="middle" letter-spacing="0.55">100</text>
<text x="346.5" y="333.5" font-size="12.7" text-anchor="middle" letter-spacing="0.55">110</text>
<text x="372.2" y="333.5" font-size="12.7" text-anchor="middle" letter-spacing="0.55">120</text>
<text x="398.2" y="333.5" font-size="12.7" text-anchor="middle" letter-spacing="0.55">130</text>
<text x="424.1" y="333.5" font-size="12.7" text-anchor="middle" letter-spacing="0.55">140</text>
<text x="449.4" y="333.5" font-size="12.7" text-anchor="middle" letter-spacing="0.55">150</text>
<text x="475.2" y="333.5" font-size="12.7" text-anchor="middle" letter-spacing="0.55">160</text>
<text x="499.4" y="333.5" font-size="12.7" text-anchor="middle">170</text>
<text x="233" y="356.6" font-size="14" class="b" textLength="124.9" lengthAdjust="spacingAndGlyphs">Days After Transfer</text>
<text x="73.3" y="362.1" font-size="11.7" class="b c" textLength="57.3" lengthAdjust="spacingAndGlyphs">Treatment</text>
<g stroke="#3b322e" stroke-width="1.05" fill="none">
<path d="M96.1,327.8 V351.8 M91.9,346.6 L96.1,327.8 L101.3,346.6"/>
<path d="M449.2,337 V366.2 M444.6,354.6 L449.2,336.6 L453.8,354.6"/>
<path d="M477.7,337 V366.2 M473.1,353.1 L477.7,336.6 L482.5,353.1"/>
</g>
<text x="449.3" y="377.2" font-size="11.8" class="b c" text-anchor="middle">1</text>
<text x="478" y="376.4" font-size="11.8" class="b c" text-anchor="middle">2</text>
<rect x="330.7" y="19.9" width="124.7" height="76.3" fill="#fcefdb" stroke="#3b322e" stroke-width="0.8"/>
<path d="M338,32.9H360.4" stroke="#3b322e" stroke-width="0.9"/>
<rect x="346.15" y="30.25" width="5.3" height="5.3" fill="#fdf3e4" fill-opacity="0.35" stroke="#3b322e" stroke-width="0.85"/>
<text x="366.3" y="36.3" font-size="9.8" style="stroke-width:0.2px" textLength="52.9" lengthAdjust="spacingAndGlyphs">Control n=8</text>
<path d="M338,45.5H360.4" stroke="#3b322e" stroke-width="0.9"/>
<circle cx="348.80" cy="45.50" r="2.85" fill="#fcefdb" fill-opacity="0.25" stroke="#3b322e" stroke-width="0.85"/><circle cx="348.80" cy="45.50" r="1.0" fill="#3b322e"/>
<text x="366.3" y="48.9" font-size="9.8" style="stroke-width:0.2px" textLength="62.5" lengthAdjust="spacingAndGlyphs">BMT only n=8</text>
<path d="M338,58.2H360.4" stroke="#3b322e" stroke-width="0.9"/>
<circle cx="348.80" cy="58.20" r="3.0" fill="#3b322e"/>
<text x="366.3" y="61.6" font-size="9.8" style="stroke-width:0.2px" textLength="60.4" lengthAdjust="spacingAndGlyphs">TBI/BMT n=8</text>
<path d="M338,70.8H360.4" stroke="#3b322e" stroke-width="0.9"/>
<path d="M348.80,67.90 L351.80,73.10 L345.80,73.10 Z" fill="#3b322e"/>
<text x="366.3" y="74.2" font-size="9.8" style="stroke-width:0.2px" textLength="81.2" lengthAdjust="spacingAndGlyphs">Cy/TBI/BMT n=10</text>
<path d="M338,83.8H360.4" stroke="#3b322e" stroke-width="0.9"/>
<rect x="346.65" y="81.65" width="4.3" height="4.3" fill="#fcefdb" stroke="#3b322e" stroke-width="1.6"/>
<text x="366.3" y="87.2" font-size="9.8" style="stroke-width:0.2px" textLength="77.4" lengthAdjust="spacingAndGlyphs">Mp/TBI/BMT n=8</text>
<g stroke="#1d1a18" stroke-width="1.2" fill="none">
<path d="M55.7,422.4 V666 H497"/>
<path d="M52.4,666.00H55.6M52.4,639.00H55.6M52.4,612.00H55.6M52.4,585.00H55.6M52.4,558.00H55.6M52.4,531.00H55.6M52.4,504.00H55.6M52.4,477.00H55.6M52.4,450.00H55.6M52.4,423.00H55.6M55.75,666V669M63.10,666V669M70.45,666V669M77.80,666V669M85.15,666V669M92.50,666V669M99.85,666V669M107.20,666V669M114.55,666V669M121.90,666V669M129.25,666V669M136.60,666V669M143.95,666V669M151.30,666V669M158.65,666V669M166.00,666V669M173.35,666V669M180.70,666V669M188.05,666V669M195.40,666V669M202.75,666V669M210.10,666V669M217.45,666V669M224.80,666V669M232.15,666V669M239.50,666V669M246.85,666V669M254.20,666V669M261.55,666V669M268.90,666V669M276.25,666V669M283.60,666V669M290.95,666V669M298.30,666V669M305.65,666V669M313.00,666V669M320.35,666V669M327.70,666V669M335.05,666V669M342.40,666V669M349.75,666V669M357.10,666V669M364.45,666V669M371.80,666V669M379.15,666V669M386.50,666V669M393.85,666V669M401.20,666V669M408.55,666V669M415.90,666V669M423.25,666V669M430.60,666V669M437.95,666V669M445.30,666V669M452.65,666V669M460.00,666V669M467.35,666V669M474.70,666V669M482.05,666V669M489.40,666V669M496.75,666V669"/>
</g>
<text x="45.5" y="668.7" font-size="6.8" class="b" text-anchor="end">0</text>
<text x="45.5" y="641.7" font-size="6.8" class="b" text-anchor="end">0.5</text>
<text x="45.5" y="614.7" font-size="6.8" class="b" text-anchor="end">1</text>
<text x="45.5" y="587.7" font-size="6.8" class="b" text-anchor="end">1.5</text>
<text x="45.5" y="560.7" font-size="6.8" class="b" text-anchor="end">2</text>
<text x="45.5" y="533.7" font-size="6.8" class="b" text-anchor="end">2,5</text>
<text x="45.5" y="506.7" font-size="6.8" class="b" text-anchor="end">3</text>
<text x="45.5" y="479.7" font-size="6.8" class="b" text-anchor="end">3,5</text>
<text x="45.5" y="452.7" font-size="6.8" class="b" text-anchor="end">4</text>
<text x="45.5" y="425.7" font-size="6.8" class="b" text-anchor="end">4,5</text>
<text x="58.0" y="678.1" font-size="7.1" class="b" text-anchor="middle">0</text>
<text x="95.0" y="678.1" font-size="7.1" class="b" text-anchor="middle">5</text>
<text x="130.9" y="678.1" font-size="7.1" class="b" text-anchor="middle">10</text>
<text x="168.0" y="678.1" font-size="7.1" class="b" text-anchor="middle">15</text>
<text x="205.0" y="678.1" font-size="7.1" class="b" text-anchor="middle">20</text>
<text x="241.3" y="678.1" font-size="7.1" class="b" text-anchor="middle">25</text>
<text x="276.9" y="678.1" font-size="7.1" class="b" text-anchor="middle">30</text>
<text x="313.8" y="678.1" font-size="7.1" class="b" text-anchor="middle">35</text>
<text x="351.3" y="678.1" font-size="7.1" class="b" text-anchor="middle">40</text>
<text x="388.0" y="678.1" font-size="7.1" class="b" text-anchor="middle">45</text>
<text x="424.2" y="678.1" font-size="7.1" class="b" text-anchor="middle">50</text>
<text x="461.3" y="678.1" font-size="7.1" class="b" text-anchor="middle">55</text>
<text x="265.6" y="695.6" font-size="15" class="b" textLength="32.1" lengthAdjust="spacingAndGlyphs">Days</text>
<text transform="translate(27.8,595.2) rotate(-90)" font-size="15.6" class="b" textLength="96.4" lengthAdjust="spacingAndGlyphs">Clinical scores</text>
<polyline points="117.80,660.19 125.15,633.48 132.50,597.62 139.85,558.94 147.20,519.74 154.55,489.68 161.90,476.75 169.25,496.50 176.60,481.75 183.95,471.00 191.30,454.00 198.65,476.00 206.00,481.50 213.35,484.50 220.70,489.75 228.05,510.25 235.40,508.00 242.75,508.00 250.10,508.00 257.45,508.00 264.80,508.00 272.15,508.00 279.50,508.00 286.85,508.00 294.20,508.00 301.55,508.00 308.90,508.00 316.25,508.00 323.60,508.00 330.95,508.00 338.30,508.00 345.65,508.00 353.00,508.00 360.35,508.00 367.70,508.00 375.05,508.00 382.40,508.00 389.75,508.00 397.10,508.00 404.45,508.00 411.80,508.00 419.15,508.00 426.50,508.00 433.85,508.00 441.20,508.00 448.55,508.00 455.90,508.00 463.25,508.00 470.60,508.00 477.95,508.00 485.30,508.00 492.65,508.00" fill="none" stroke="#b9b0a4" stroke-width="0.8" stroke-dasharray="1.2,2.6" opacity="0.8"/>
<g stroke="#1d1a18" stroke-width="1.1" fill="none" stroke-linejoin="round">
<polyline points="59.00,665.75 66.35,665.75 73.70,665.75 81.05,665.75 88.40,665.75 95.75,665.75 103.10,665.75 110.45,665.75 117.80,665.75 125.15,657.20 132.50,620.70 139.85,585.20 147.20,544.80 154.55,506.25 161.90,480.75 169.25,492.50 176.60,485.75 183.95,467.00 191.30,458.00 198.65,472.00 206.00,485.50 213.35,480.50 220.70,493.75 228.05,506.25 235.40,506.25 242.75,508.00 250.10,506.25 257.45,498.75 264.80,497.00 272.15,501.25 279.50,503.75 286.85,501.25 294.20,517.50 301.55,510.00 308.90,508.00 316.25,510.00 323.60,510.50 330.95,512.50 338.30,510.75 345.65,515.00 353.00,506.25 360.35,501.25 367.70,500.75 375.05,499.25 382.40,499.25 389.75,499.25 397.10,505.75 404.45,510.75 411.80,510.75 419.15,510.75 426.50,505.75 433.85,505.75 441.20,510.75 448.55,510.75 455.90,510.75 463.25,510.75 470.60,510.75 477.95,508.50 485.30,506.25 492.65,501.25"/>
<polyline points="59.00,665.75 66.35,665.75 73.70,665.75 81.05,665.75 88.40,665.75 95.75,665.75 103.10,665.75 110.45,665.75 117.80,665.75 125.15,647.40 132.50,626.60 139.85,592.70 147.20,571.00 154.55,547.75 161.90,538.90 169.25,536.50 176.60,531.25 183.95,538.25 191.30,540.50 198.65,533.75 206.00,535.50 213.35,534.50 220.70,536.25 228.05,539.25 235.40,541.90 242.75,548.25 250.10,556.25 257.45,563.25 264.80,562.00 272.15,561.25 279.50,563.00 286.85,557.00 294.20,567.50 301.55,558.75 308.90,560.00 316.25,560.50 323.60,563.75 330.95,565.50 338.30,562.50 345.65,561.25 353.00,558.75 360.35,557.00 367.70,558.25 375.05,558.75 382.40,558.75 389.75,558.75 397.10,563.00 404.45,565.50 411.80,568.00 419.15,564.50 426.50,563.00 433.85,563.00 441.20,563.00 448.55,564.50 455.90,565.00 463.25,563.75 470.60,562.50 477.95,558.00 485.30,560.50 492.65,561.50"/>
</g>
<rect x="57.60" y="664.55" width="2.8" height="2.4" fill="#1d1a18"/>
<rect x="64.95" y="664.55" width="2.8" height="2.4" fill="#1d1a18"/>
<rect x="72.30" y="664.55" width="2.8" height="2.4" fill="#1d1a18"/>
<rect x="79.65" y="664.55" width="2.8" height="2.4" fill="#1d1a18"/>
<rect x="87.00" y="664.55" width="2.8" height="2.4" fill="#1d1a18"/>
<rect x="94.35" y="664.55" width="2.8" height="2.4" fill="#1d1a18"/>
<rect x="101.70" y="664.55" width="2.8" height="2.4" fill="#1d1a18"/>
<rect x="109.05" y="664.55" width="2.8" height="2.4" fill="#1d1a18"/>
<rect x="116.40" y="664.55" width="2.8" height="2.4" fill="#1d1a18"/>
<rect x="123.75" y="646.20" width="2.8" height="2.4" fill="#1d1a18"/>
<rect x="131.10" y="625.40" width="2.8" height="2.4" fill="#1d1a18"/>
<rect x="138.45" y="591.50" width="2.8" height="2.4" fill="#1d1a18"/>
<rect x="145.80" y="569.80" width="2.8" height="2.4" fill="#1d1a18"/>
<rect x="153.15" y="546.55" width="2.8" height="2.4" fill="#1d1a18"/>
<rect x="160.50" y="537.70" width="2.8" height="2.4" fill="#1d1a18"/>
<rect x="167.85" y="535.30" width="2.8" height="2.4" fill="#1d1a18"/>
<rect x="175.20" y="530.05" width="2.8" height="2.4" fill="#1d1a18"/>
<rect x="182.55" y="537.05" width="2.8" height="2.4" fill="#1d1a18"/>
<rect x="189.90" y="539.30" width="2.8" height="2.4" fill="#1d1a18"/>
<rect x="197.25" y="532.55" width="2.8" height="2.4" fill="#1d1a18"/>
<rect x="204.60" y="534.30" width="2.8" height="2.4" fill="#1d1a18"/>
<rect x="211.95" y="533.30" width="2.8" height="2.4" fill="#1d1a18"/>
<rect x="219.30" y="535.05" width="2.8" height="2.4" fill="#1d1a18"/>
<rect x="226.65" y="538.05" width="2.8" height="2.4" fill="#1d1a18"/>
<rect x="234.00" y="540.70" width="2.8" height="2.4" fill="#1d1a18"/>
<rect x="241.35" y="547.05" width="2.8" height="2.4" fill="#1d1a18"/>
<rect x="248.70" y="555.05" width="2.8" height="2.4" fill="#1d1a18"/>
<rect x="256.05" y="562.05" width="2.8" height="2.4" fill="#1d1a18"/>
<rect x="263.40" y="560.80" width="2.8" height="2.4" fill="#1d1a18"/>
<rect x="270.75" y="560.05" width="2.8" height="2.4" fill="#1d1a18"/>
<rect x="278.10" y="561.80" width="2.8" height="2.4" fill="#1d1a18"/>
<rect x="285.45" y="555.80" width="2.8" height="2.4" fill="#1d1a18"/>
<rect x="292.80" y="566.30" width="2.8" height="2.4" fill="#1d1a18"/>
<rect x="300.15" y="557.55" width="2.8" height="2.4" fill="#1d1a18"/>
<rect x="307.50" y="558.80" width="2.8" height="2.4" fill="#1d1a18"/>
<rect x="314.85" y="559.30" width="2.8" height="2.4" fill="#1d1a18"/>
<rect x="322.20" y="562.55" width="2.8" height="2.4" fill="#1d1a18"/>
<rect x="329.55" y="564.30" width="2.8" height="2.4" fill="#1d1a18"/>
<rect x="336.90" y="561.30" width="2.8" height="2.4" fill="#1d1a18"/>
<rect x="344.25" y="560.05" width="2.8" height="2.4" fill="#1d1a18"/>
<rect x="351.60" y="557.55" width="2.8" height="2.4" fill="#1d1a18"/>
<rect x="358.95" y="555.80" width="2.8" height="2.4" fill="#1d1a18"/>
<rect x="366.30" y="557.05" width="2.8" height="2.4" fill="#1d1a18"/>
<rect x="373.65" y="557.55" width="2.8" height="2.4" fill="#1d1a18"/>
<rect x="381.00" y="557.55" width="2.8" height="2.4" fill="#1d1a18"/>
<rect x="388.35" y="557.55" width="2.8" height="2.4" fill="#1d1a18"/>
<rect x="395.70" y="561.80" width="2.8" height="2.4" fill="#1d1a18"/>
<rect x="403.05" y="564.30" width="2.8" height="2.4" fill="#1d1a18"/>
<rect x="410.40" y="566.80" width="2.8" height="2.4" fill="#1d1a18"/>
<rect x="417.75" y="563.30" width="2.8" height="2.4" fill="#1d1a18"/>
<rect x="425.10" y="561.80" width="2.8" height="2.4" fill="#1d1a18"/>
<rect x="432.45" y="561.80" width="2.8" height="2.4" fill="#1d1a18"/>
<rect x="439.80" y="561.80" width="2.8" height="2.4" fill="#1d1a18"/>
<rect x="447.15" y="563.30" width="2.8" height="2.4" fill="#1d1a18"/>
<rect x="454.50" y="563.80" width="2.8" height="2.4" fill="#1d1a18"/>
<rect x="461.85" y="562.55" width="2.8" height="2.4" fill="#1d1a18"/>
<rect x="469.20" y="561.30" width="2.8" height="2.4" fill="#1d1a18"/>
<rect x="476.55" y="556.80" width="2.8" height="2.4" fill="#1d1a18"/>
<rect x="483.90" y="559.30" width="2.8" height="2.4" fill="#1d1a18"/>
<rect x="491.25" y="560.30" width="2.8" height="2.4" fill="#1d1a18"/>
<path d="M59.00,663.35 L61.30,667.45 L56.70,667.45Z" fill="#1d1a18"/>
<path d="M66.35,663.35 L68.65,667.45 L64.05,667.45Z" fill="#1d1a18"/>
<path d="M73.70,663.35 L76.00,667.45 L71.40,667.45Z" fill="#1d1a18"/>
<path d="M81.05,663.35 L83.35,667.45 L78.75,667.45Z" fill="#1d1a18"/>
<path d="M88.40,663.35 L90.70,667.45 L86.10,667.45Z" fill="#1d1a18"/>
<path d="M95.75,663.35 L98.05,667.45 L93.45,667.45Z" fill="#1d1a18"/>
<path d="M103.10,663.35 L105.40,667.45 L100.80,667.45Z" fill="#1d1a18"/>
<path d="M110.45,663.35 L112.75,667.45 L108.15,667.45Z" fill="#1d1a18"/>
<path d="M117.80,663.35 L120.10,667.45 L115.50,667.45Z" fill="#1d1a18"/>
<path d="M125.15,654.80 L127.45,658.90 L122.85,658.90Z" fill="#1d1a18"/>
<path d="M132.50,618.30 L134.80,622.40 L130.20,622.40Z" fill="#1d1a18"/>
<path d="M139.85,582.80 L142.15,586.90 L137.55,586.90Z" fill="#1d1a18"/>
<path d="M147.20,542.40 L149.50,546.50 L144.90,546.50Z" fill="#1d1a18"/>
<path d="M154.55,503.85 L156.85,507.95 L152.25,507.95Z" fill="#1d1a18"/>
<path d="M161.90,478.35 L164.20,482.45 L159.60,482.45Z" fill="#1d1a18"/>
<path d="M169.25,490.10 L171.55,494.20 L166.95,494.20Z" fill="#1d1a18"/>
<path d="M176.60,483.35 L178.90,487.45 L174.30,487.45Z" fill="#1d1a18"/>
<path d="M183.95,464.60 L186.25,468.70 L181.65,468.70Z" fill="#1d1a18"/>
<path d="M191.30,455.60 L193.60,459.70 L189.00,459.70Z" fill="#1d1a18"/>
<path d="M198.65,469.60 L200.95,473.70 L196.35,473.70Z" fill="#1d1a18"/>
<path d="M206.00,483.10 L208.30,487.20 L203.70,487.20Z" fill="#1d1a18"/>
<path d="M213.35,478.10 L215.65,482.20 L211.05,482.20Z" fill="#1d1a18"/>
<path d="M220.70,491.35 L223.00,495.45 L218.40,495.45Z" fill="#1d1a18"/>
<path d="M228.05,503.85 L230.35,507.95 L225.75,507.95Z" fill="#1d1a18"/>
<path d="M235.40,503.85 L237.70,507.95 L233.10,507.95Z" fill="#1d1a18"/>
<path d="M242.75,505.60 L245.05,509.70 L240.45,509.70Z" fill="#1d1a18"/>
<path d="M250.10,503.85 L252.40,507.95 L247.80,507.95Z" fill="#1d1a18"/>
<path d="M257.45,496.35 L259.75,500.45 L255.15,500.45Z" fill="#1d1a18"/>
<path d="M264.80,494.60 L267.10,498.70 L262.50,498.70Z" fill="#1d1a18"/>
<path d="M272.15,498.85 L274.45,502.95 L269.85,502.95Z" fill="#1d1a18"/>
<path d="M279.50,501.35 L281.80,505.45 L277.20,505.45Z" fill="#1d1a18"/>
<path d="M286.85,498.85 L289.15,502.95 L284.55,502.95Z" fill="#1d1a18"/>
<path d="M294.20,515.10 L296.50,519.20 L291.90,519.20Z" fill="#1d1a18"/>
<path d="M301.55,507.60 L303.85,511.70 L299.25,511.70Z" fill="#1d1a18"/>
<path d="M308.90,505.60 L311.20,509.70 L306.60,509.70Z" fill="#1d1a18"/>
<path d="M316.25,507.60 L318.55,511.70 L313.95,511.70Z" fill="#1d1a18"/>
<path d="M323.60,508.10 L325.90,512.20 L321.30,512.20Z" fill="#1d1a18"/>
<path d="M330.95,510.10 L333.25,514.20 L328.65,514.20Z" fill="#1d1a18"/>
<path d="M338.30,508.35 L340.60,512.45 L336.00,512.45Z" fill="#1d1a18"/>
<path d="M345.65,512.60 L347.95,516.70 L343.35,516.70Z" fill="#1d1a18"/>
<path d="M353.00,503.85 L355.30,507.95 L350.70,507.95Z" fill="#1d1a18"/>
<path d="M360.35,498.85 L362.65,502.95 L358.05,502.95Z" fill="#1d1a18"/>
<path d="M367.70,498.35 L370.00,502.45 L365.40,502.45Z" fill="#1d1a18"/>
<path d="M375.05,496.85 L377.35,500.95 L372.75,500.95Z" fill="#1d1a18"/>
<path d="M382.40,496.85 L384.70,500.95 L380.10,500.95Z" fill="#1d1a18"/>
<path d="M389.75,496.85 L392.05,500.95 L387.45,500.95Z" fill="#1d1a18"/>
<path d="M397.10,503.35 L399.40,507.45 L394.80,507.45Z" fill="#1d1a18"/>
<path d="M404.45,508.35 L406.75,512.45 L402.15,512.45Z" fill="#1d1a18"/>
<path d="M411.80,508.35 L414.10,512.45 L409.50,512.45Z" fill="#1d1a18"/>
<path d="M419.15,508.35 L421.45,512.45 L416.85,512.45Z" fill="#1d1a18"/>
<path d="M426.50,503.35 L428.80,507.45 L424.20,507.45Z" fill="#1d1a18"/>
<path d="M433.85,503.35 L436.15,507.45 L431.55,507.45Z" fill="#1d1a18"/>
<path d="M441.20,508.35 L443.50,512.45 L438.90,512.45Z" fill="#1d1a18"/>
<path d="M448.55,508.35 L450.85,512.45 L446.25,512.45Z" fill="#1d1a18"/>
<path d="M455.90,508.35 L458.20,512.45 L453.60,512.45Z" fill="#1d1a18"/>
<path d="M463.25,508.35 L465.55,512.45 L460.95,512.45Z" fill="#1d1a18"/>
<path d="M470.60,508.35 L472.90,512.45 L468.30,512.45Z" fill="#1d1a18"/>
<path d="M477.95,506.10 L480.25,510.20 L475.65,510.20Z" fill="#1d1a18"/>
<path d="M485.30,503.85 L487.60,507.95 L483.00,507.95Z" fill="#1d1a18"/>
<path d="M492.65,498.85 L494.95,502.95 L490.35,502.95Z" fill="#1d1a18"/>
<path d="M75.5,607V646.0" stroke="#1d1a18" stroke-width="1" fill="none"/><path d="M71.2,645.0 H79.8 L75.5,653Z" fill="#1d1a18"/>
<path d="M112.2,595V633.5" stroke="#1d1a18" stroke-width="1" fill="none"/><path d="M107.9,632.5 H116.5 L112.2,640.5Z" fill="#1d1a18"/>
<path d="M231.3,446.3V484.2" stroke="#1d1a18" stroke-width="1" fill="none"/><path d="M227.0,483.2 H235.60000000000002 L231.3,491.2Z" fill="#1d1a18"/>
<text x="182.7" y="531.3" font-size="10.5" class="b" text-anchor="middle">*</text>
<circle cx="403.8" cy="438" r="0.8" fill="#b9b0a4"/>
<text x="416.6" y="443" font-size="11.4" class="b" textLength="39.5" lengthAdjust="spacingAndGlyphs">Controls</text>
<path d="M396,454.6H411.6" stroke="#1d1a18" stroke-width="1.3"/><rect x="402.3" y="453.2" width="3" height="2.8" fill="#1d1a18"/>
<text x="416.6" y="458.5" font-size="11.4" class="b" textLength="61.2" lengthAdjust="spacingAndGlyphs">Treated +3+8</text>
<path d="M396,470.7H411.6" stroke="#1d1a18" stroke-width="1.3"/><path d="M403.8,468.2 l2.4,4 h-4.8Z" fill="#1d1a18"/>
<text x="416.6" y="474" font-size="11.4" class="b" textLength="55.7" lengthAdjust="spacingAndGlyphs">Treated +24</text>
</svg></body></html>
